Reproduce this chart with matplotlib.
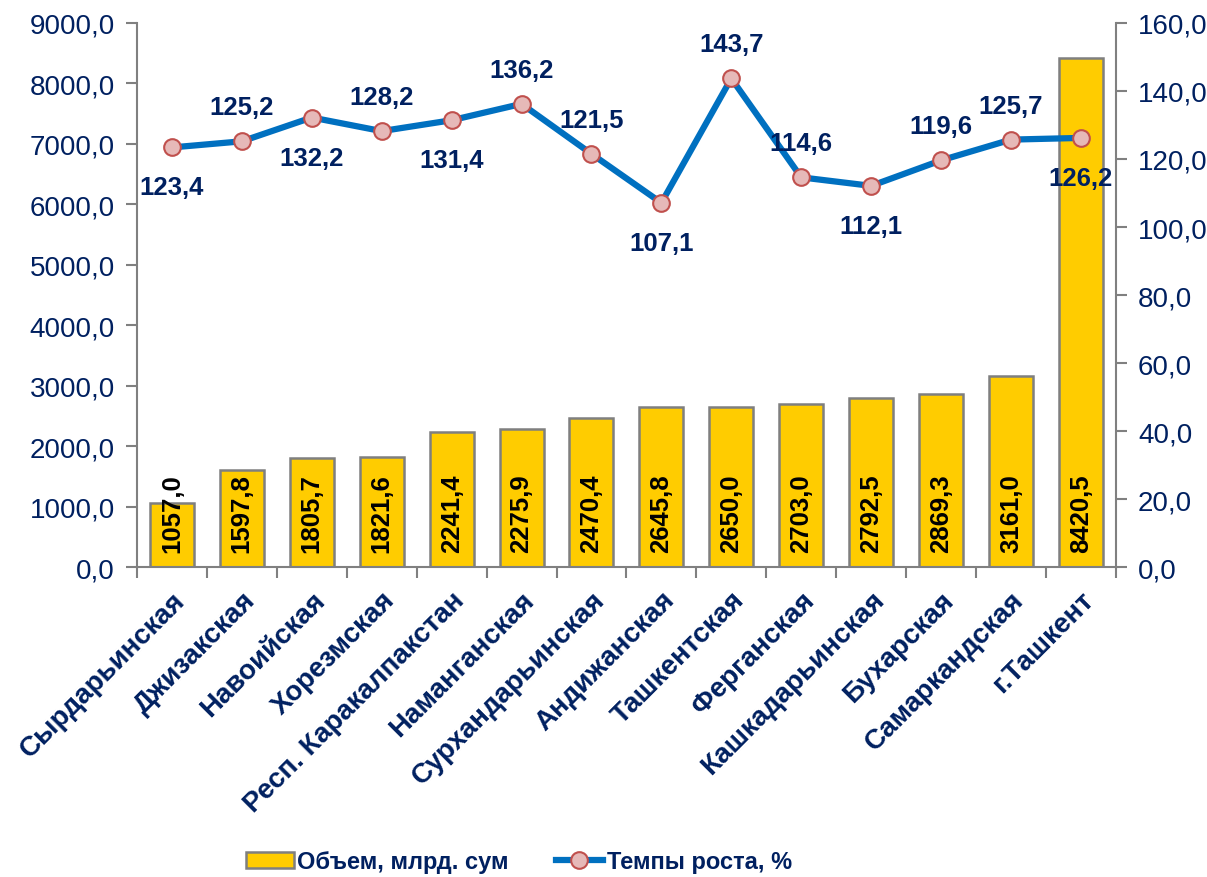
import matplotlib
matplotlib.use("Agg")
import matplotlib.pyplot as plt
from matplotlib.lines import Line2D
from matplotlib.patches import Patch

plt.rcParams['font.family'] = ['Liberation Sans', 'DejaVu Sans']

regions = ["Сырдарьинская", "Джизакская", "Навоийская", "Хорезмская",
           "Респ. Каракалпакстан", "Наманганская", "Сурхандарьинская",
           "Андижанская", "Ташкентская", "Ферганская", "Кашкадарьинская",
           "Бухарская", "Самаркандская", "г.Ташкент"]
volume = [1057.0, 1597.8, 1805.7, 1821.6, 2241.4, 2275.9, 2470.4,
          2645.8, 2650.0, 2703.0, 2792.5, 2869.3, 3161.0, 8420.5]
growth = [123.4, 125.2, 132.2, 128.2, 131.4, 136.2, 121.5,
          107.1, 143.7, 114.6, 112.1, 119.6, 125.7, 126.2]
# где подпись темпа роста: 1 - над точкой, -1 - под точкой
label_side = [-1, 1, -1, 1, -1, 1, 1, -1, 1, 1, -1, 1, 1, -1]

NAVY = '#002060'
BAR = '#FFCC00'
LINE = '#0070C0'

fig = plt.figure(figsize=(12.07, 8.78), dpi=100)
ax = fig.add_axes([0.1135, 0.353, 0.811, 0.6197])
x = list(range(len(regions)))

ax.bar(x, volume, width=0.63, color=BAR, edgecolor='#7F7F7F', linewidth=1.8, zorder=2)
for xi, v in zip(x, volume):
    ax.text(xi, 250, f"{v:.1f}".replace('.', ','), rotation=90, ha='center', va='bottom',
            fontsize=18.5, fontweight='bold', color='black', zorder=5)

ax.set_ylim(0, 9000)
ax.set_xlim(-0.5, len(regions) - 0.5)
ax.set_yticks(range(0, 9001, 1000))
ax.set_yticklabels([f"{v:.1f}".replace('.', ',') for v in range(0, 9001, 1000)])
ax.set_xticks(x)
ax.set_xticklabels(regions, rotation=45, ha='right', rotation_mode='anchor',
                   fontsize=20, fontweight='bold', color=NAVY)
ax.set_xticks([i - 0.5 for i in range(len(regions) + 1)], minor=True)
ax.tick_params(axis='x', which='major', length=0, pad=14)
ax.tick_params(axis='x', which='minor', length=8, color='#808080', width=1.5)
ax.tick_params(axis='y', length=8, color='#808080', width=1.5, labelsize=20, labelcolor=NAVY, pad=8)
for s in ['top', 'right']:
    ax.spines[s].set_visible(False)
for s in ['left', 'bottom']:
    ax.spines[s].set_color('#808080')
    ax.spines[s].set_linewidth(1.5)

ax2 = ax.twinx()
ax2.plot(x, growth, color=LINE, linewidth=4.5, marker='o', markersize=12,
         markerfacecolor='#E6B9B8', markeredgecolor='#C0504D', markeredgewidth=1.5, zorder=3)
ax2.set_ylim(0, 160)
ax2.set_yticks(range(0, 161, 20))
ax2.set_yticklabels([f"{v:.1f}".replace('.', ',') for v in range(0, 161, 20)])
ax2.tick_params(axis='y', length=8, color='#808080', width=1.5, labelsize=20, labelcolor=NAVY, pad=8)
for s in ['top', 'left', 'bottom']:
    ax2.spines[s].set_visible(False)
ax2.spines['right'].set_color('#808080')
ax2.spines['right'].set_linewidth(1.5)

for xi, g, side in zip(x, growth, label_side):
    dy = 34 if side > 0 else -40
    ax2.annotate(f"{g:.1f}".replace('.', ','), (xi, g), xytext=(0, dy), textcoords='offset pixels',
                 ha='center', va='center', fontsize=18.5, fontweight='bold', color=NAVY, zorder=6)

handles = [Patch(facecolor=BAR, edgecolor='#7F7F7F', linewidth=1.8),
           Line2D([0], [0], color=LINE, linewidth=4.5, marker='o', markersize=12,
                  markerfacecolor='#E6B9B8', markeredgecolor='#C0504D', markeredgewidth=1.5)]
fig.legend(handles, ["Объем, млрд. сум", "Темпы роста, %"], loc='lower center',
           bbox_to_anchor=(0.43, -0.02), ncol=2, frameon=False,
           prop={'size': 17, 'weight': 'bold'}, labelcolor=NAVY,
           handlelength=2.0, handletextpad=0.15, columnspacing=2.0)

fig.savefig('out.png', dpi=100)
